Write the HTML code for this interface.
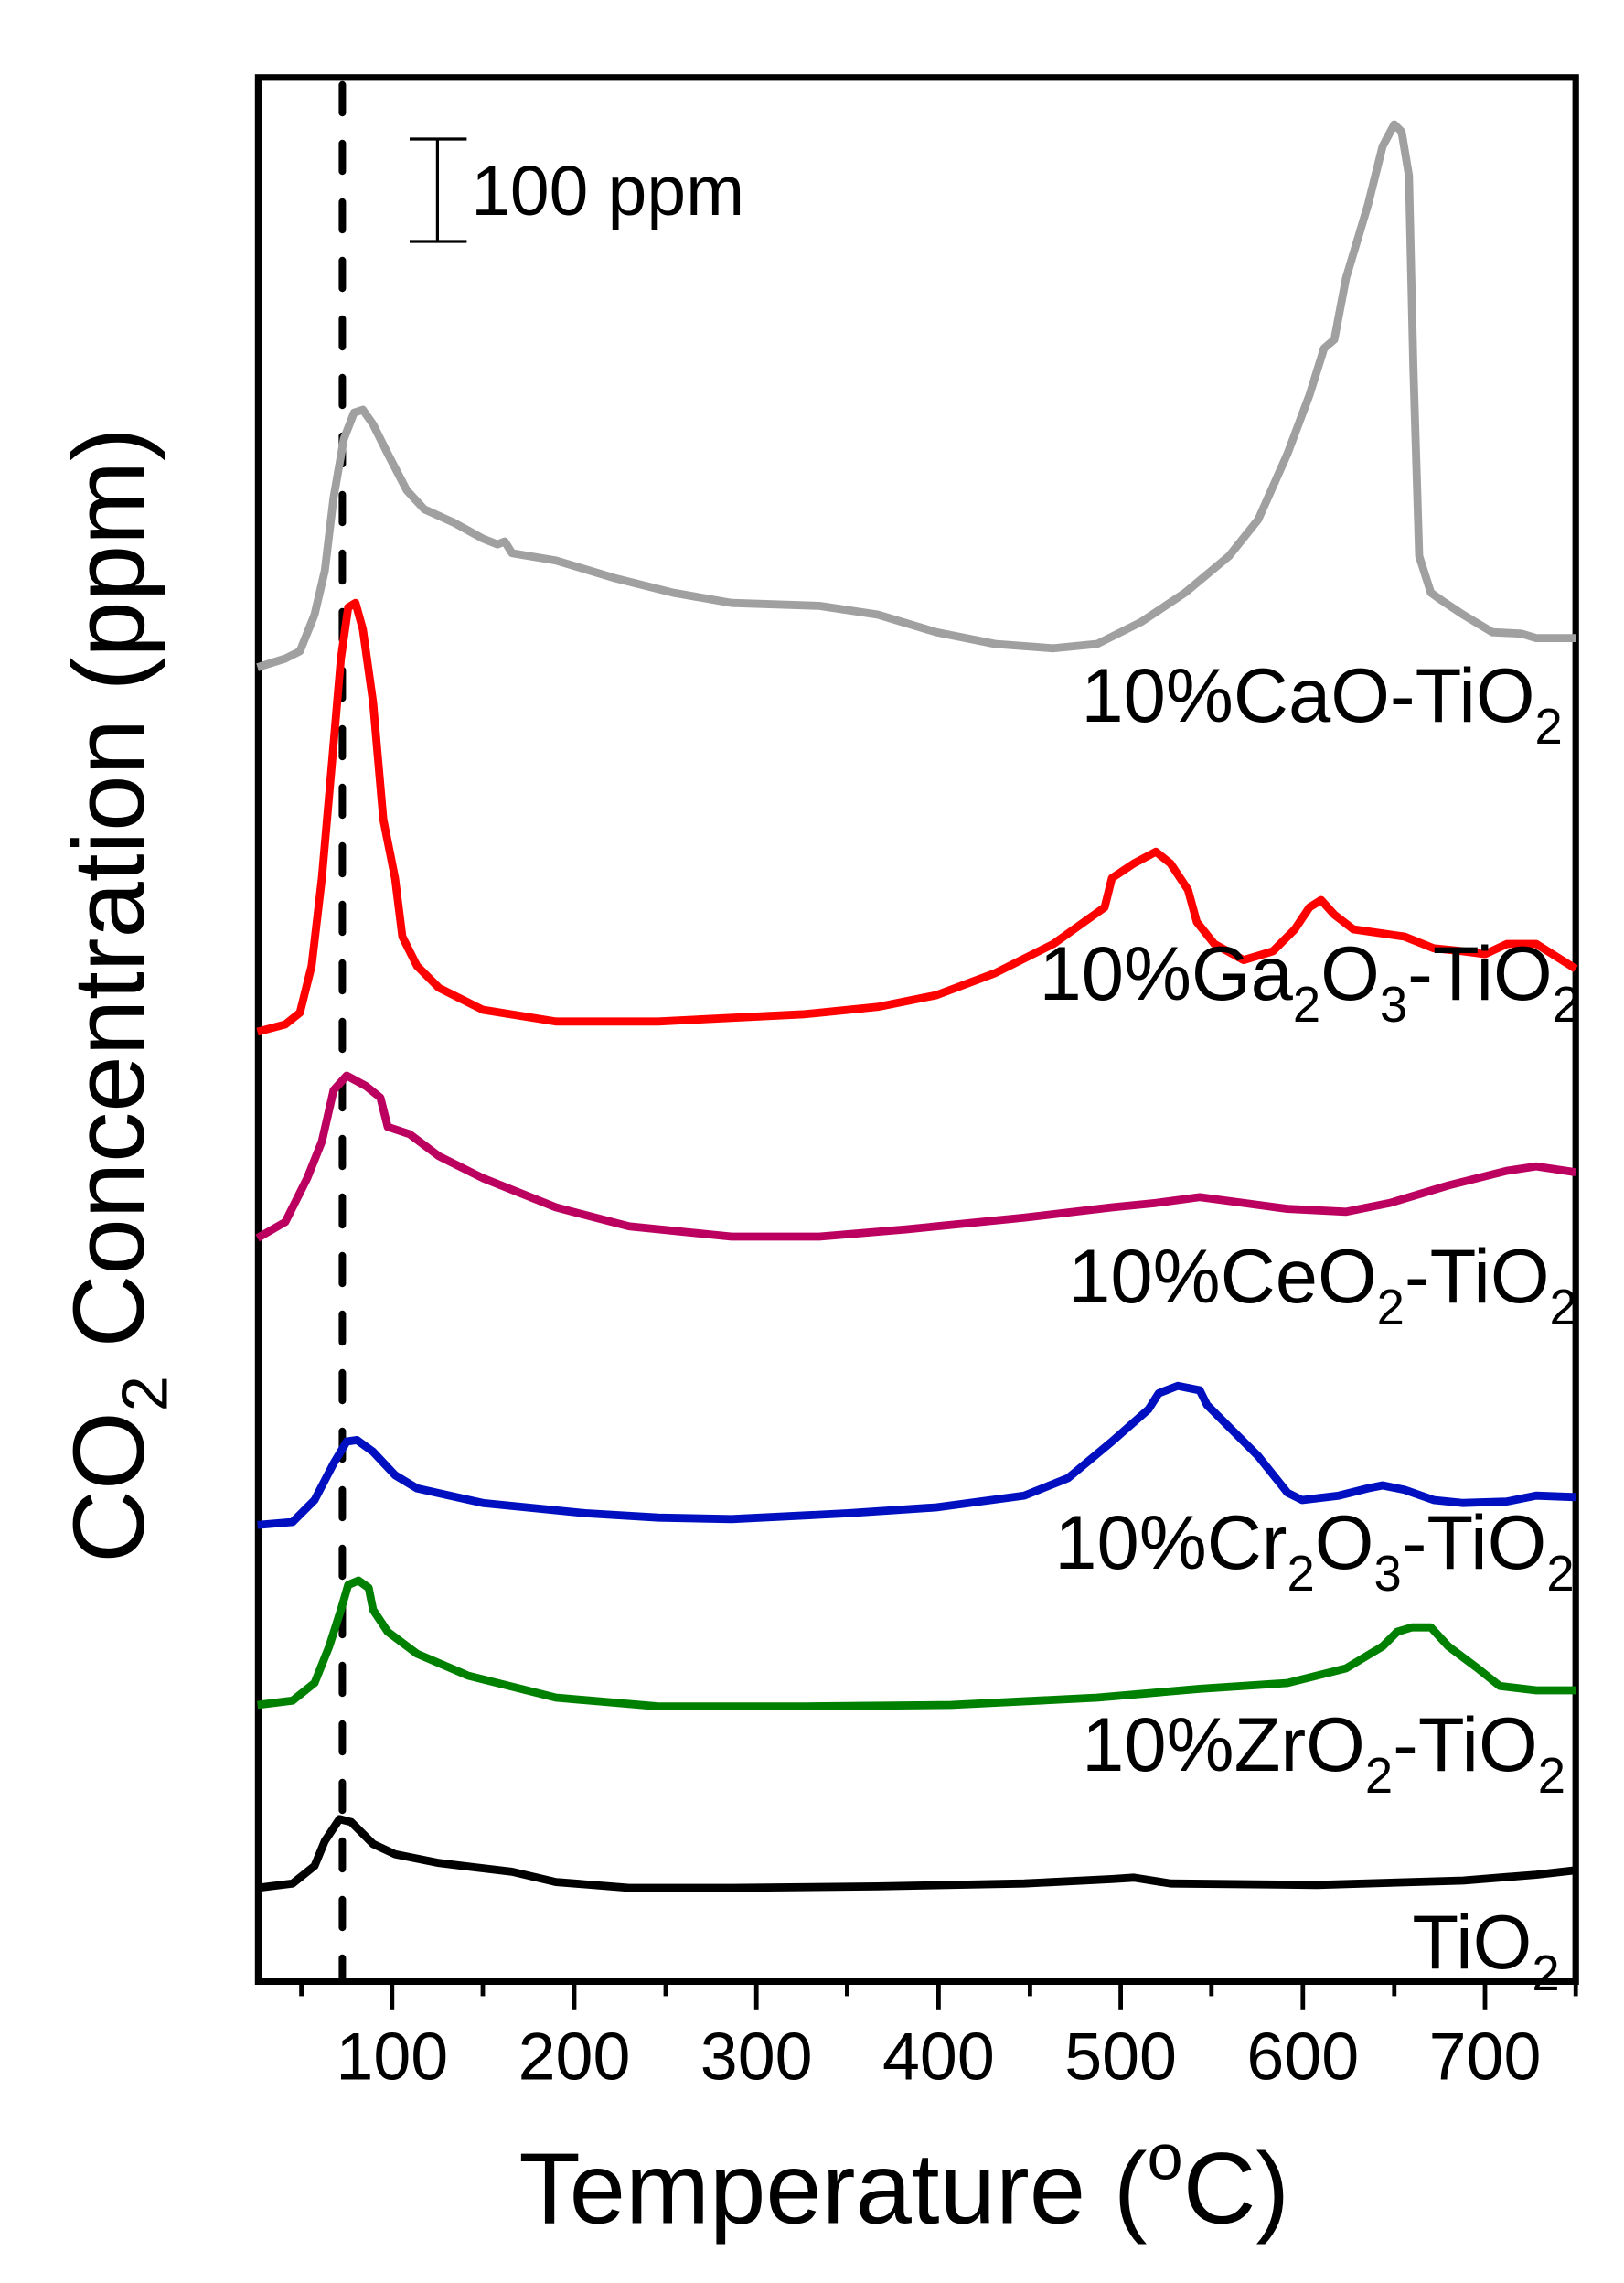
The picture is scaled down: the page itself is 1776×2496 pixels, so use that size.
<!DOCTYPE html>
<html><head><meta charset="utf-8"><style>
html,body{margin:0;padding:0;background:#fff;}
svg{display:block;}
text{font-family:"Liberation Sans",Arial,sans-serif;fill:#000;}
</style></head><body>
<svg width="1776" height="2496" viewBox="0 0 1110 1560" xmlns="http://www.w3.org/2000/svg">
<rect width="1110" height="1560" fill="#fff"/>
<rect x="176.5" y="53" width="900.5" height="1301" fill="none" stroke="#000" stroke-width="4.5"/>
<g stroke="#000" stroke-width="3">
<line x1="268" y1="1354" x2="268" y2="1373"/>
<line x1="392.5" y1="1354" x2="392.5" y2="1373"/>
<line x1="517" y1="1354" x2="517" y2="1373"/>
<line x1="641.5" y1="1354" x2="641.5" y2="1373"/>
<line x1="766" y1="1354" x2="766" y2="1373"/>
<line x1="890.5" y1="1354" x2="890.5" y2="1373"/>
<line x1="1015" y1="1354" x2="1015" y2="1373"/>
<line x1="206" y1="1354" x2="206" y2="1364"/>
<line x1="330" y1="1354" x2="330" y2="1364"/>
<line x1="455" y1="1354" x2="455" y2="1364"/>
<line x1="579" y1="1354" x2="579" y2="1364"/>
<line x1="704" y1="1354" x2="704" y2="1364"/>
<line x1="828" y1="1354" x2="828" y2="1364"/>
<line x1="953" y1="1354" x2="953" y2="1364"/>
<line x1="1077" y1="1354" x2="1077" y2="1364"/>
</g>
<g font-size="46" text-anchor="middle">
<text x="268" y="1421">100</text><text x="392.5" y="1421">200</text><text x="517" y="1421">300</text>
<text x="641.5" y="1421">400</text><text x="766" y="1421">500</text><text x="890.5" y="1421">600</text>
<text x="1015" y="1421">700</text>
</g>
<text x="618" y="1519" font-size="69" text-anchor="middle">Temperature (<tspan font-size="44" dy="-30">o</tspan><tspan dy="30">C)</tspan></text>
<text transform="translate(98,680) rotate(-90)" font-size="69" text-anchor="middle">CO<tspan font-size="44" dy="16">2</tspan><tspan dy="-16"> Concentration (ppm)</tspan></text>
<g stroke="#000" stroke-width="2">
<line x1="280" y1="95" x2="319" y2="95"/><line x1="280" y1="165" x2="319" y2="165"/><line x1="299" y1="95" x2="299" y2="165"/>
</g>
<text x="322" y="147" font-size="48">100 ppm</text>
<line x1="234" y1="58" x2="234" y2="1352" stroke="#000" stroke-width="5" stroke-dasharray="19 21" stroke-linecap="round"/>
<g fill="none" stroke-width="5.5" stroke-linejoin="round">
<polyline stroke="#a0a0a0" points="176,456 195,450 205,445 215,420 222,390 228,340 235,300 242,282 248,280 255,290 265,310 278,335 290,348 310,357 330,368 340,372 345,370 350,378 380,383 420,395 460,405 500,412 560,414 600,420 640,432 680,440 720,443 750,440 780,425 810,405 840,380 848,370 860,355 880,310 895,270 905,238 912,232 920,190 935,140 945,100 953,85 958,90 963,120 966,250 970,380 978,405 985,410 1000,420 1020,432 1040,433 1050,436 1077,436"/>
<polyline stroke="#ff0000" points="176,705 195,700 205,692 213,660 220,600 227,520 233,450 238,415 243,412 248,430 255,480 262,560 270,600 275,640 285,660 300,675 330,690 380,698 450,698 550,693 600,688 640,680 680,665 720,645 755,620 760,600 775,590 790,582 800,590 812,608 818,630 830,645 850,656 870,650 885,635 895,620 903,615 912,625 925,635 960,640 980,648 1000,650 1015,652 1030,645 1050,645 1077,662"/>
<polyline stroke="#bb0060" points="176,846 195,835 210,805 220,780 228,745 237,735 250,742 260,750 265,770 280,775 300,790 330,805 380,825 430,838 500,845 560,845 620,840 700,832 760,825 790,822 820,818 850,822 880,826 920,828 950,822 990,810 1030,800 1050,797 1077,801"/>
<polyline stroke="#0010c0" points="176,1042 200,1040 215,1025 228,1000 237,985 244,984 255,992 270,1008 285,1017 330,1027 400,1034 450,1037 500,1038 580,1034 640,1030 700,1022 730,1010 760,985 785,963 792,952 805,947 820,950 825,960 840,975 860,995 880,1020 890,1025 915,1022 935,1017 945,1015 960,1018 980,1025 1000,1027 1030,1026 1050,1022 1077,1023"/>
<polyline stroke="#008000" points="176,1165 200,1162 215,1150 225,1125 233,1100 238,1083 245,1080 252,1085 255,1100 265,1115 285,1130 320,1145 380,1160 450,1166 550,1166 650,1165 750,1160 820,1154 880,1150 920,1140 945,1125 955,1115 965,1112 978,1112 990,1125 1010,1140 1025,1152 1050,1155 1077,1155"/>
<polyline stroke="#000000" points="176,1290 200,1287 215,1275 222,1258 232,1243 240,1245 255,1260 270,1267 300,1273 350,1279 380,1286 430,1290 500,1290 600,1289 700,1287 760,1284 775,1283 800,1287 900,1288 1000,1285 1050,1281 1077,1278"/>
</g>
<g font-size="52" text-anchor="end">
<text x="1068" y="493">10%CaO-TiO<tspan font-size="34" dy="15">2</tspan></text>
<text x="1080" y="683">10%Ga<tspan font-size="34" dy="15">2</tspan><tspan dy="-15">O</tspan><tspan font-size="34" dy="15">3</tspan><tspan dy="-15">-TiO</tspan><tspan font-size="34" dy="15">2</tspan></text>
<text x="1078" y="890">10%CeO<tspan font-size="34" dy="15">2</tspan><tspan dy="-15">-TiO</tspan><tspan font-size="34" dy="15">2</tspan></text>
<text x="1076" y="1072">10%Cr<tspan font-size="34" dy="15">2</tspan><tspan dy="-15">O</tspan><tspan font-size="34" dy="15">3</tspan><tspan dy="-15">-TiO</tspan><tspan font-size="34" dy="15">2</tspan></text>
<text x="1070" y="1210">10%ZrO<tspan font-size="34" dy="15">2</tspan><tspan dy="-15">-TiO</tspan><tspan font-size="34" dy="15">2</tspan></text>
<text x="1066" y="1345">TiO<tspan font-size="34" dy="15">2</tspan></text>
</g>
</svg>
</body></html>
